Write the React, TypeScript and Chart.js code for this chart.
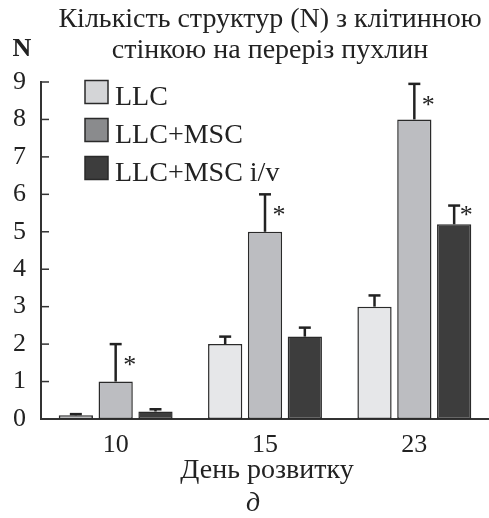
import React, { useEffect, useRef } from "react";
import { Chart, registerables } from "chart.js";

Chart.register(...registerables);

const categories = ["10", "15", "23"];
const seriesNames = ["LLC", "LLC+MSC", "LLC+MSC i/v"];
const llcValues = [0.1, 2.0, 3.0];
const llcErrors = [0.03, 0.2, 0.3];
const mscValues = [1.0, 5.0, 8.0];
const mscErrors = [1.0, 1.0, 0.95];
const ivValues = [0.2, 2.2, 5.2];
const ivErrors = [0.06, 0.24, 0.5];
const mscStars = [true, true, true];
const ivStars = [false, false, true];
const yTicks = [0, 1, 2, 3, 4, 5, 6, 7, 8, 9];
const titleLines = ["Кількість структур (N) з клітинною", "стінкою на переріз пухлин"];
const yAxisLabel = "N";
const xAxisLabel = "День розвитку";
const panelLetter = "д";

const barColors = ["#e6e7e9", "#bcbdc1", "#3d3d3d"];
const legendColors = ["#d4d5d7", "#8a8b8d", "#3d3d3d"];
const FONT = "Liberation Serif";
const INK = "#222222";

export default function App() {
  const ref = useRef<HTMLCanvasElement | null>(null);
  useEffect(() => {
    document.body.style.margin = "0";
    const canvas = ref.current;
    if (!canvas) return;
    const errors = [llcErrors, mscErrors, ivErrors];
    const stars = [null, mscStars, ivStars];

    const overlay = {
      id: "overlay",
      afterDatasetsDraw(chart: any) {
        const ctx = chart.ctx as CanvasRenderingContext2D;
        const area = chart.chartArea;
        const y = chart.scales.y;
        ctx.save();
        ctx.strokeStyle = "#333";
        ctx.lineWidth = 1.5;
        yTicks.forEach((t) => {
          const py = y.getPixelForValue(t);
          ctx.beginPath();
          ctx.moveTo(area.left, py);
          ctx.lineTo(area.left + 8, py);
          ctx.stroke();
        });
        chart.data.datasets.forEach((ds: any, di: number) => {
          const meta = chart.getDatasetMeta(di);
          meta.data.forEach((bar: any, i: number) => {
            const v = ds.data[i];
            const top = y.getPixelForValue(v + errors[di][i]);
            const base = y.getPixelForValue(v);
            ctx.strokeStyle = INK;
            ctx.lineWidth = 2.5;
            ctx.beginPath();
            ctx.moveTo(bar.x, base);
            ctx.lineTo(bar.x, top);
            ctx.stroke();
            ctx.beginPath();
            ctx.moveTo(bar.x - 6, top);
            ctx.lineTo(bar.x + 6, top);
            ctx.stroke();
            const s = stars[di];
            if (s && s[i]) {
              ctx.fillStyle = INK;
              ctx.font = `26px ${FONT}`;
              ctx.textAlign = "center";
              ctx.textBaseline = "alphabetic";
              const dx = di === 1 ? 14 : 12;
              const dy = di === 1 ? 29 : 17;
              ctx.fillText("*", bar.x + dx, top + dy);
            }
          });
        });
        ctx.textAlign = "left";
        ctx.textBaseline = "alphabetic";
        ctx.font = `28px ${FONT}`;
        seriesNames.forEach((name, i) => {
          const cy = 92 + i * 38;
          ctx.fillStyle = legendColors[i];
          ctx.fillRect(85, cy - 11.5, 23, 23);
          ctx.strokeStyle = "#2a2a2a";
          ctx.lineWidth = 1.5;
          ctx.strokeRect(85, cy - 11.5, 23, 23);
          ctx.fillStyle = INK;
          ctx.fillText(name, 115, cy + 13);
        });
        ctx.textAlign = "center";
        ctx.font = `28px ${FONT}`;
        ctx.fillText(titleLines[0], 270, 27);
        ctx.fillText(titleLines[1], 270, 58);
        ctx.font = `bold 26px ${FONT}`;
        ctx.fillText(yAxisLabel, 22, 56);
        ctx.font = `28px ${FONT}`;
        ctx.fillText(xAxisLabel, 267, 478);
        ctx.font = `italic 28px ${FONT}`;
        ctx.fillText(panelLetter, 253, 511);
        ctx.restore();
      },
    };

    const chart = new Chart(canvas, {
      type: "bar",
      data: {
        labels: categories,
        datasets: [llcValues, mscValues, ivValues].map((d, i) => ({
          label: seriesNames[i],
          data: d,
          backgroundColor: barColors[i],
          borderColor: "#2a2a2a",
          borderWidth: 1.5,
          borderSkipped: false,
          categoryPercentage: 0.8,
          barPercentage: 0.86,
        })),
      },
      options: {
        responsive: false,
        animation: false,
        layout: { padding: { top: 82, left: 0, right: 0, bottom: 0 } },
        plugins: { legend: { display: false }, tooltip: { enabled: false }, title: { display: false } },
        scales: {
          x: {
            grid: { display: false, drawTicks: false },
            border: { display: true, color: "#333", width: 2 },
            ticks: { font: { family: FONT, size: 26 }, color: INK, padding: 11 },
            afterFit: (s: any) => { s.height = 99; },
          },
          y: {
            min: 0,
            max: 9,
            grid: { display: false, drawTicks: false },
            border: { display: true, color: "#333", width: 2 },
            ticks: { stepSize: 1, autoSkip: false, font: { family: FONT, size: 26 }, color: INK, padding: 15 },
            afterFit: (s: any) => { s.width = 41; },
          },
        },
      },
      plugins: [overlay],
    });
    return () => chart.destroy();
  }, []);
  return (
    <div style={{ width: 489, height: 518, background: "#fff" }}>
      <canvas ref={ref} width={489} height={518} />
    </div>
  );
}
